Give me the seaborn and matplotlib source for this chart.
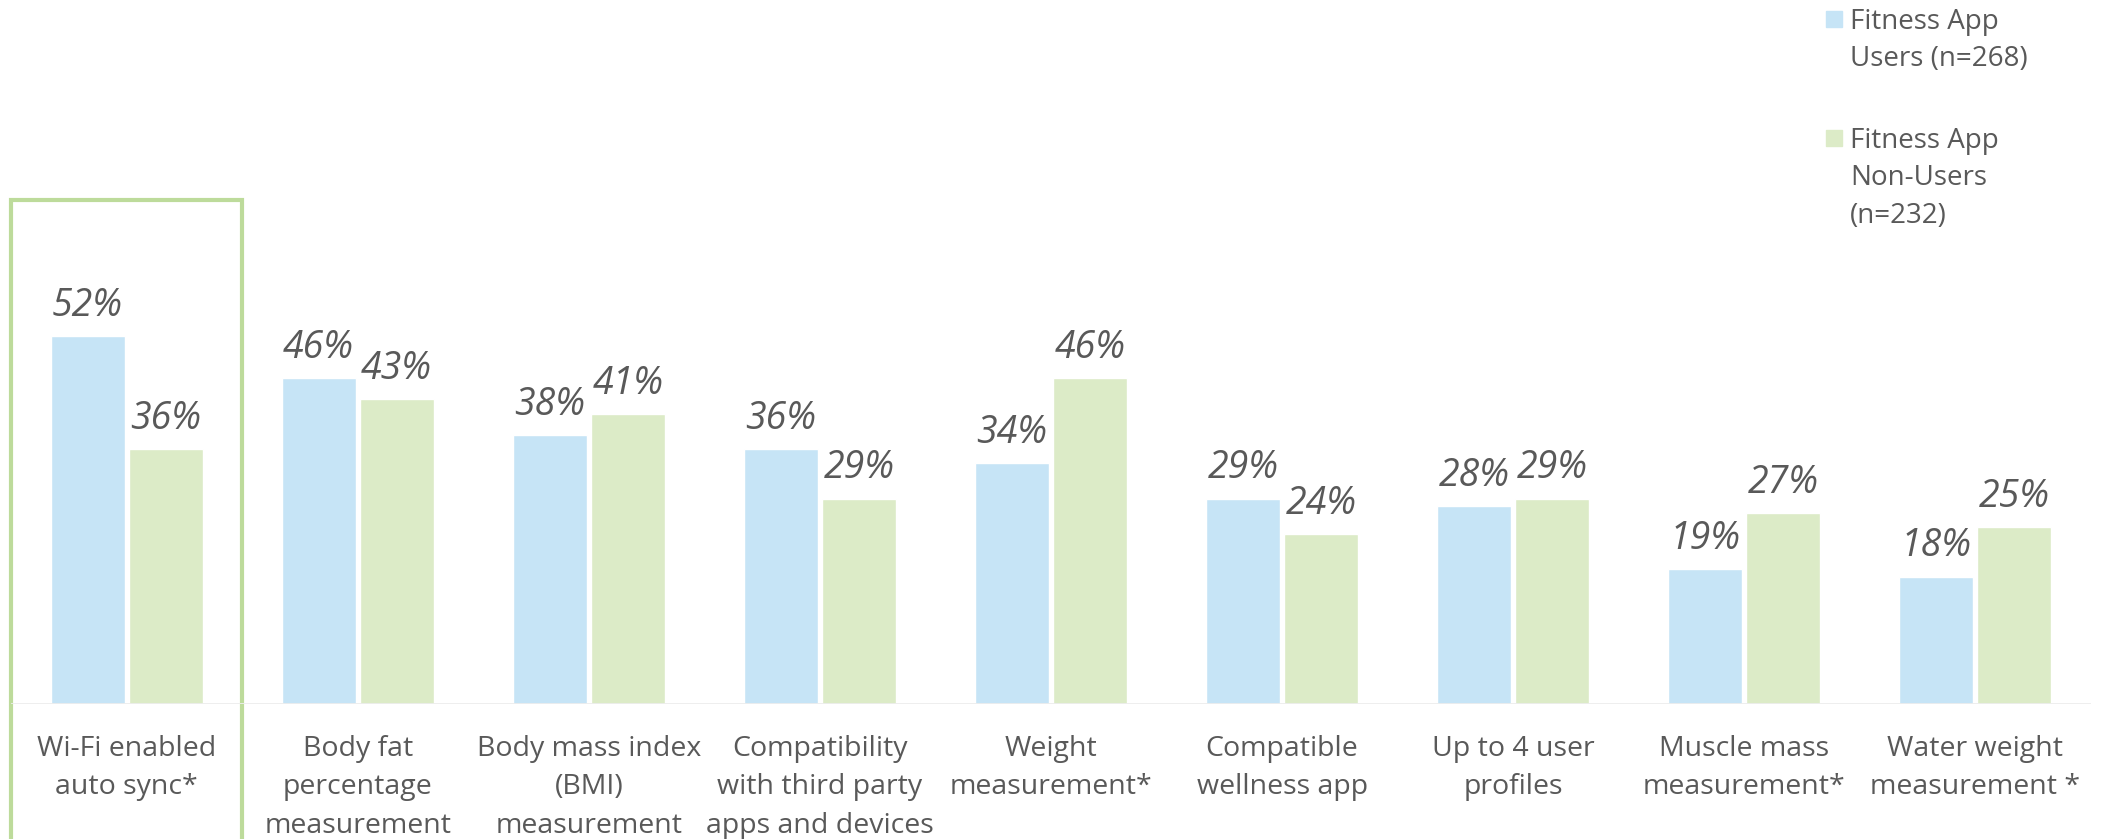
import matplotlib
matplotlib.use("Agg")
import pandas as pd
import matplotlib.pyplot as plt
import seaborn as sns
from matplotlib.patches import Rectangle
from matplotlib.transforms import blended_transform_factory

# Dữ liệu
features = [
    "Wi-Fi enabled\nauto sync*",
    "Body fat\npercentage\nmeasurement",
    "Body mass index\n(BMI)\nmeasurement",
    "Compatibility\nwith third party\napps and devices",
    "Weight\nmeasurement*",
    "Compatible\nwellness app",
    "Up to 4 user\nprofiles",
    "Muscle mass\nmeasurement*",
    "Water weight\nmeasurement *",
]
users = [52, 46, 38, 36, 34, 29, 28, 19, 18]
non_users = [36, 43, 41, 29, 46, 24, 29, 27, 25]
groups = ["Fitness App\nUsers (n=268)", "Fitness App\nNon-Users\n(n=232)"]
colors = ["#C6E4F6", "#DCEBC7"]

df = pd.DataFrame({
    "feature": features * 2,
    "pct": users + non_users,
    "group": [groups[0]] * len(features) + [groups[1]] * len(features),
})

sns.set_style("white")
plt.rcParams["font.family"] = ["Open Sans", "DejaVu Sans"]
gray = "#595959"

fig = plt.figure(figsize=(21.02, 8.39), dpi=100)
ax = fig.add_axes([11 / 2102, 135 / 839, 2080 / 2102, 704 / 839])

sns.barplot(data=df, x="feature", y="pct", hue="group", palette=colors,
            saturation=1, width=0.675, gap=0.05, ax=ax, legend=False)

for c in ax.containers:
    ax.bar_label(c, fmt="%d%%", padding=8, fontsize=27, fontstyle="italic", color=gray)

ax.set_xlim(-0.5, 8.5)
ax.set_ylim(0, 99.4)
ax.set_xlabel("")
ax.set_ylabel("")
ax.set_yticks([])
for s in ax.spines.values():
    s.set_visible(False)
ax.axhline(0, color="#EDEDED", lw=2)
ax.set_xticks(range(len(features)), features, linespacing=1.52)
ax.tick_params(axis="x", length=0, pad=22, labelsize=20.5, labelcolor=gray)

# Khung nổi bật cho nhóm đầu tiên
tr = blended_transform_factory(ax.transData, fig.transFigure)
ax.add_patch(Rectangle((-0.5, -0.02), 1.0, 0.7616 + 0.02, transform=tr, fill=False,
                       edgecolor="#BDDB9B", lw=3, clip_on=False))

# Chú thích
legend_top = [8, 127]
for lab, col, top in zip(groups, colors, legend_top):
    fig.patches.append(Rectangle((1826 / 2102, 1 - (top + 19) / 839), 16 / 2102, 16 / 839,
                                 transform=fig.transFigure, color=col))
    fig.text(1850 / 2102, 1 - top / 839, lab, fontsize=20, color=gray, va="top",
             ha="left", linespacing=1.45)

plt.savefig("out.png", dpi=100)
